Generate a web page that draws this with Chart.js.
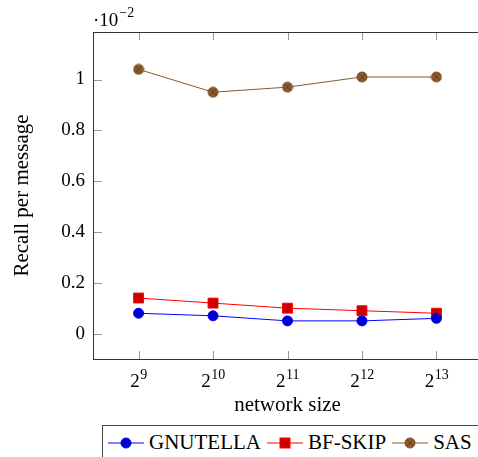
<!DOCTYPE html>
<html lang="en">
<head>
<meta charset="UTF-8">
<title>Recall per message</title>
<script src="https://cdn.jsdelivr.net/npm/chart.js"></script>
<style>
  body { margin: 0; background: #fff; overflow: hidden; width: 478px; height: 457px; position: relative; }
  #wrap { position: absolute; left: 0; top: 0; width: 490px; height: 457px; }
  #legend {
    position: absolute; left: 102px; top: 425px; width: 377px; height: 40px;
    border: 1px solid #444; box-sizing: border-box; background: #fff;
    display: flex; align-items: flex-start; padding: 4px 0 0 5px;
    font-family: "Liberation Serif", "Times New Roman", Times, serif; font-size: 21px; color: #000;
  }
  #legend .item { display: flex; align-items: center; margin-right: 6px; white-space: nowrap; }
  #legend svg { margin-right: 5px; }
</style>
</head>
<body>
<div id="wrap"><canvas id="c" width="490" height="457"></canvas></div>
<div id="legend">
  <span class="item"><svg width="36" height="14"><line x1="0" y1="7" x2="36" y2="7" stroke="#0000ff" stroke-width="1"/><circle cx="18" cy="7" r="5" fill="#0000cc" stroke="#0000ff"/></svg>GNUTELLA</span>
  <span class="item"><svg width="36" height="14"><line x1="0" y1="7" x2="36" y2="7" stroke="#ff0000" stroke-width="1"/><rect x="13" y="2" width="10" height="10" fill="#cc0000" stroke="#ff0000"/></svg>BF-SKIP</span>
  <span class="item"><svg width="36" height="14"><line x1="0" y1="7" x2="36" y2="7" stroke="#8b5a2b" stroke-width="1"/><circle cx="18" cy="7" r="5" fill="#8b5a2b" stroke="#7a4f25"/><path d="M14.5 3.5 L21.5 10.5 M21.5 3.5 L14.5 10.5" stroke="#5a3a1a" stroke-width="0.8"/></svg>SAS</span>
</div>
<script>
// network size exponents (2^x)
const sizeExp = [9, 10, 11, 12, 13];
const gnutella = [0.08, 0.07, 0.05, 0.05, 0.06];
const bfSkip = [0.14, 0.12, 0.10, 0.09, 0.08];
const sas = [1.04, 0.95, 0.97, 1.01, 1.01];
const yTicks = [0, 0.2, 0.4, 0.6, 0.8, 1];
const yTickLabels = ['0', '0.2', '0.4', '0.6', '0.8', '1'];

const serif = '"Liberation Serif", "Times New Roman", Times, serif';

// otimes marker for SAS
const otimes = document.createElement('canvas');
otimes.width = 12; otimes.height = 12;
(function () {
  const g = otimes.getContext('2d');
  g.beginPath(); g.arc(6, 6, 5, 0, Math.PI * 2);
  g.fillStyle = '#8b5a2b'; g.fill();
  g.strokeStyle = '#7a4f25'; g.lineWidth = 1; g.stroke();
  g.beginPath();
  g.moveTo(2.5, 2.5); g.lineTo(9.5, 9.5);
  g.moveTo(9.5, 2.5); g.lineTo(2.5, 9.5);
  g.strokeStyle = '#5a3a1a'; g.lineWidth = 0.8; g.stroke();
})();

const toPts = arr => arr.map((v, i) => ({ x: sizeExp[i], y: v }));

const decorations = {
  id: 'decorations',
  afterDraw(chart) {
    const ctx = chart.ctx;
    const a = chart.chartArea;
    const xs = chart.scales.x, ys = chart.scales.y;
    ctx.save();
    // tick marks (inside)
    ctx.strokeStyle = '#999';
    ctx.lineWidth = 1;
    ctx.beginPath();
    sizeExp.forEach(v => {
      const px = Math.round(xs.getPixelForValue(v)) + 0.5;
      ctx.moveTo(px, a.bottom); ctx.lineTo(px, a.bottom - 8);
      ctx.moveTo(px, a.top); ctx.lineTo(px, a.top + 8);
    });
    yTicks.forEach(v => {
      const py = Math.round(ys.getPixelForValue(v)) + 0.5;
      ctx.moveTo(a.left, py); ctx.lineTo(a.left + 9, py);
    });
    ctx.stroke();
    // frame
    ctx.strokeStyle = '#333';
    ctx.strokeRect(Math.round(a.left) + 0.5, Math.round(a.top) + 0.5,
      Math.round(a.right - a.left) + 4, Math.round(a.bottom - a.top));
    // x tick labels 2^n
    ctx.fillStyle = '#000';
    ctx.textBaseline = 'alphabetic';
    sizeExp.forEach(v => {
      const px = xs.getPixelForValue(v);
      ctx.font = '19px ' + serif;
      const bw = ctx.measureText('2').width;
      ctx.font = '14px ' + serif;
      const ew = ctx.measureText(String(v)).width;
      const x0 = px - (bw + ew) / 2;
      ctx.font = '19px ' + serif;
      ctx.textAlign = 'left';
      ctx.fillText('2', x0, 387);
      ctx.font = '14px ' + serif;
      ctx.fillText(String(v), x0 + bw + 0.5, 379);
    });
    // x title
    ctx.font = '21px ' + serif;
    ctx.textAlign = 'center';
    ctx.fillText('network size', (a.left + a.right) / 2, 411);
    // y title
    ctx.save();
    ctx.translate(28, (a.top + a.bottom) / 2);
    ctx.rotate(-Math.PI / 2);
    ctx.textAlign = 'center';
    ctx.fillText('Recall per message', 0, 0);
    ctx.restore();
    // scale factor
    ctx.textAlign = 'left';
    ctx.font = '19px ' + serif;
    ctx.fillText('\u00b710', 93, 26);
    const w = ctx.measureText('\u00b710').width;
    ctx.font = '14px ' + serif;
    ctx.fillText('\u22122', 93 + w + 1, 17);
    ctx.restore();
  }
};

new Chart(document.getElementById('c'), {
  type: 'line',
  data: {
    datasets: [
      { label: 'GNUTELLA', data: toPts(gnutella), borderColor: '#0000ff', backgroundColor: '#0000cc',
        pointBackgroundColor: '#0000cc', pointBorderColor: '#0000ff', pointStyle: 'circle', pointRadius: 5, borderWidth: 1 },
      { label: 'BF-SKIP', data: toPts(bfSkip), borderColor: '#ff0000', backgroundColor: '#cc0000',
        pointBackgroundColor: '#cc0000', pointBorderColor: '#ff0000', pointStyle: 'rect', pointRadius: 7, borderWidth: 1 },
      { label: 'SAS', data: toPts(sas), borderColor: '#8b5a2b', backgroundColor: '#8b5a2b',
        pointStyle: otimes, pointRadius: 6, borderWidth: 1 }
    ]
  },
  options: {
    responsive: false,
    animation: false,
    devicePixelRatio: 1,
    layout: { padding: { top: 32, right: 2, left: 0, bottom: 0 } },
    plugins: { legend: { display: false }, tooltip: { enabled: false } },
    scales: {
      x: {
        type: 'linear', min: 8.388, max: 13.612,
        grid: { display: false, drawTicks: false },
        border: { display: false },
        ticks: { display: false },
        afterFit(scale) { scale.height = 98; }
      },
      y: {
        min: -0.1, max: 1.187,
        grid: { display: false, drawTicks: false },
        border: { display: false },
        afterBuildTicks(scale) { scale.ticks = yTicks.map(v => ({ value: v })); },
        ticks: {
          padding: 8,
          color: '#000',
          font: { family: serif, size: 19 },
          callback(value) {
            const i = yTicks.findIndex(t => Math.abs(t - value) < 1e-9);
            return i >= 0 ? yTickLabels[i] : '';
          }
        },
        afterFit(scale) { scale.width = 93; }
      }
    }
  },
  plugins: [decorations]
});
</script>
</body>
</html>
